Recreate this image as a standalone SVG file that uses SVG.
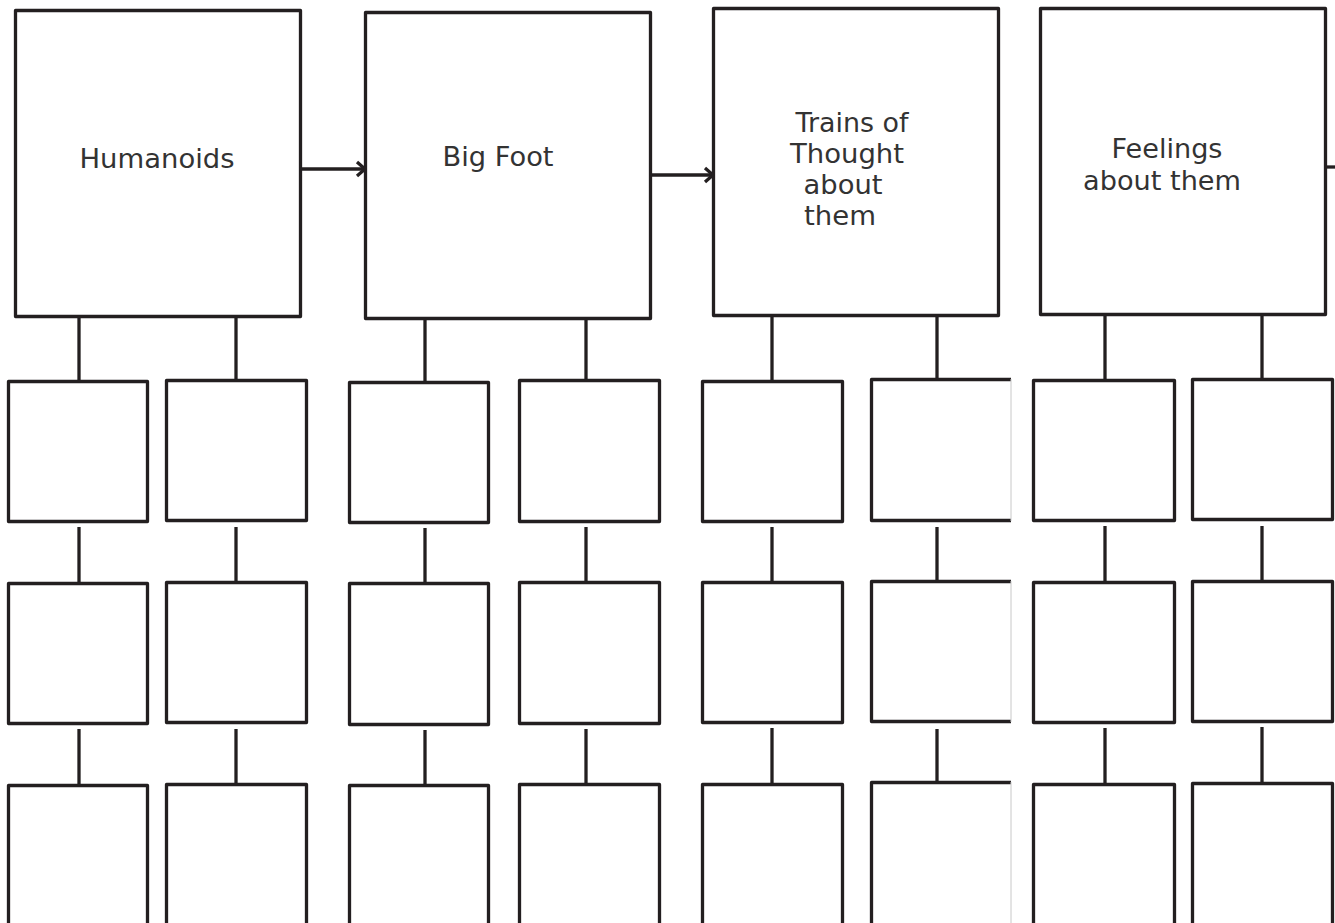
<svg xmlns="http://www.w3.org/2000/svg" width="1335" height="923" viewBox="0 0 1335 923">
<style>
.box{fill:#fff;stroke:#231f20;stroke-width:3.3;stroke-linejoin:round}
.open{fill:#fff;stroke:#231f20;stroke-width:3.3;stroke-linejoin:round}
.edge{stroke:#c8c8c8;stroke-width:1}
.ln{stroke:#231f20;stroke-width:3.3;fill:none}
.lbl{font-family:"DejaVu Sans",sans-serif;font-size:26px;fill:#333;text-anchor:middle}
</style>
<defs>
<marker id="arr" markerUnits="userSpaceOnUse" markerWidth="16" markerHeight="20" refX="11" refY="10" orient="auto">
<path d="M3,3 L11,10 L3,17" fill="none" stroke="#231f20" stroke-width="3.3"/>
</marker>
</defs>
<rect width="1335" height="923" fill="#fff"/>
<g id="connectors">
<line class="ln" x1="302" y1="169" x2="365" y2="169" marker-end="url(#arr)"/>
<line class="ln" x1="651" y1="175" x2="713" y2="175" marker-end="url(#arr)"/>
<line class="ln" x1="1326" y1="167" x2="1335" y2="167"/>
<line class="ln" x1="79" y1="317" x2="79" y2="381"/>
<line class="ln" x1="236" y1="317" x2="236" y2="380"/>
<line class="ln" x1="425" y1="319" x2="425" y2="382"/>
<line class="ln" x1="586" y1="319" x2="586" y2="380"/>
<line class="ln" x1="772" y1="316" x2="772" y2="381"/>
<line class="ln" x1="937" y1="316" x2="937" y2="379"/>
<line class="ln" x1="1105" y1="315" x2="1105" y2="380"/>
<line class="ln" x1="1262" y1="315" x2="1262" y2="379"/>
<line class="ln" x1="79" y1="527" x2="79" y2="583"/>
<line class="ln" x1="79" y1="729" x2="79" y2="785"/>
<line class="ln" x1="236" y1="527" x2="236" y2="582"/>
<line class="ln" x1="236" y1="729" x2="236" y2="784"/>
<line class="ln" x1="425" y1="528" x2="425" y2="583"/>
<line class="ln" x1="425" y1="730" x2="425" y2="785"/>
<line class="ln" x1="586" y1="527" x2="586" y2="582"/>
<line class="ln" x1="586" y1="729" x2="586" y2="784"/>
<line class="ln" x1="772" y1="527" x2="772" y2="582"/>
<line class="ln" x1="772" y1="728" x2="772" y2="784"/>
<line class="ln" x1="937" y1="527" x2="937" y2="581"/>
<line class="ln" x1="937" y1="729" x2="937" y2="782"/>
<line class="ln" x1="1105" y1="526" x2="1105" y2="582"/>
<line class="ln" x1="1105" y1="728" x2="1105" y2="784"/>
<line class="ln" x1="1262" y1="526" x2="1262" y2="581"/>
<line class="ln" x1="1262" y1="727" x2="1262" y2="783"/>
</g>
<g id="humanoids"><rect class="box" x="15.5" y="10.5" width="285" height="306"/><text class="lbl" x="157" y="168" textLength="155" lengthAdjust="spacingAndGlyphs">Humanoids</text></g>
<g id="bigfoot"><rect class="box" x="365.5" y="12.5" width="285" height="306"/><text class="lbl" x="498" y="166" textLength="111" lengthAdjust="spacingAndGlyphs">Big Foot</text></g>
<g id="trains"><rect class="box" x="713.5" y="8.5" width="285" height="307"/>
<text class="lbl" x="852" y="132" textLength="113" lengthAdjust="spacingAndGlyphs">Trains of</text>
<text class="lbl" x="847" y="163" textLength="114" lengthAdjust="spacingAndGlyphs">Thought</text>
<text class="lbl" x="843" y="194" textLength="79" lengthAdjust="spacingAndGlyphs">about</text>
<text class="lbl" x="840" y="225" textLength="72" lengthAdjust="spacingAndGlyphs">them</text></g>
<g id="feelings"><rect class="box" x="1040.5" y="8.5" width="285" height="306"/>
<text class="lbl" x="1167" y="158" textLength="111" lengthAdjust="spacingAndGlyphs">Feelings</text>
<text class="lbl" x="1162" y="190" textLength="158" lengthAdjust="spacingAndGlyphs">about them</text></g>
<g id="c1r1"><rect class="box" x="8.5" y="381.5" width="139" height="140"/></g>
<g id="c1r2"><rect class="box" x="8.5" y="583.5" width="139" height="140"/></g>
<g id="c1r3"><rect class="box" x="8.5" y="785.5" width="139" height="150"/></g>
<g id="c2r1"><rect class="box" x="166.5" y="380.5" width="140" height="140"/></g>
<g id="c2r2"><rect class="box" x="166.5" y="582.5" width="140" height="140"/></g>
<g id="c2r3"><rect class="box" x="166.5" y="784.5" width="140" height="150"/></g>
<g id="c3r1"><rect class="box" x="349.5" y="382.5" width="139" height="140"/></g>
<g id="c3r2"><rect class="box" x="349.5" y="583.5" width="139" height="141"/></g>
<g id="c3r3"><rect class="box" x="349.5" y="785.5" width="139" height="150"/></g>
<g id="c4r1"><rect class="box" x="519.5" y="380.5" width="140" height="141"/></g>
<g id="c4r2"><rect class="box" x="519.5" y="582.5" width="140" height="141"/></g>
<g id="c4r3"><rect class="box" x="519.5" y="784.5" width="140" height="150"/></g>
<g id="c5r1"><rect class="box" x="702.5" y="381.5" width="140" height="140"/></g>
<g id="c5r2"><rect class="box" x="702.5" y="582.5" width="140" height="140"/></g>
<g id="c5r3"><rect class="box" x="702.5" y="784.5" width="140" height="150"/></g>
<g id="c6r1"><path class="open" d="M1011,379.5 H871.5 V520.5 H1011"/><line class="edge" x1="1011" y1="379" x2="1011" y2="521"/></g>
<g id="c6r2"><path class="open" d="M1011,581.5 H871.5 V721.5 H1011"/><line class="edge" x1="1011" y1="581" x2="1011" y2="722"/></g>
<g id="c6r3"><path class="open" d="M1011,782.5 H871.5 V930"/><line class="edge" x1="1011" y1="782" x2="1011" y2="923"/></g>
<g id="c7r1"><rect class="box" x="1033.5" y="380.5" width="141" height="140"/></g>
<g id="c7r2"><rect class="box" x="1033.5" y="582.5" width="141" height="140"/></g>
<g id="c7r3"><rect class="box" x="1033.5" y="784.5" width="141" height="150"/></g>
<g id="c8r1"><rect class="box" x="1192.5" y="379.5" width="140" height="140"/></g>
<g id="c8r2"><rect class="box" x="1192.5" y="581.5" width="140" height="140"/></g>
<g id="c8r3"><rect class="box" x="1192.5" y="783.5" width="140" height="150"/></g>
</svg>
